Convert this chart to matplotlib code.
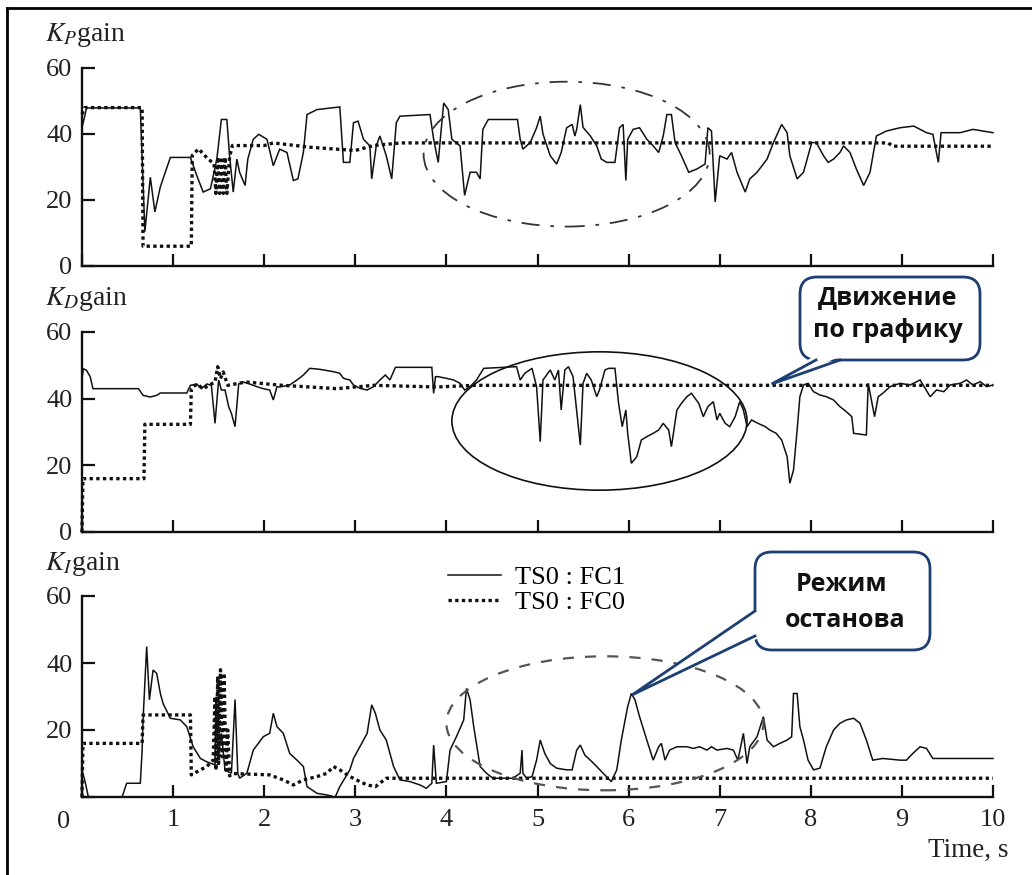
import matplotlib
matplotlib.use('Agg')
import matplotlib.pyplot as plt
from matplotlib.patches import Ellipse, FancyBboxPatch, Polygon
from matplotlib.lines import Line2D

plt.rcParams['font.family'] = ['Liberation Serif', 'DejaVu Serif']
plt.rcParams['mathtext.fontset'] = 'stix'

# ---------------- data ----------------
series_labels = ["TS0 : FC1", "TS0 : FC0"]
x_ticks = [0, 1, 2, 3, 4, 5, 6, 7, 8, 9, 10]
y_ticks = [0, 20, 40, 60]

# K_P gain, FC1 (solid)
kp1_t = [0, 0.03, 0.05, 0.64, 0.69, 0.75, 0.80, 0.86, 0.97, 1.19, 1.26, 1.33, 1.41, 1.48, 1.53, 1.59, 1.62,
         1.66, 1.70, 1.73, 1.79, 1.82, 1.88, 1.94, 2.03, 2.10, 2.17, 2.25, 2.32, 2.37, 2.43, 2.47, 2.58, 2.83,
         2.87, 2.94, 2.98, 3.03, 3.09, 3.16, 3.18, 3.23, 3.27, 3.34, 3.40, 3.45, 3.49, 3.82, 3.86, 3.91, 3.97,
         4.02, 4.06, 4.15, 4.20, 4.26, 4.33, 4.37, 4.40, 4.46, 4.78, 4.81, 4.84, 4.92, 4.99, 5.03, 5.06, 5.14,
         5.21, 5.26, 5.32, 5.38, 5.41, 5.43, 5.47, 5.50, 5.58, 5.65, 5.70, 5.76, 5.85, 5.90, 5.94, 5.97, 5.99,
         6.05, 6.12, 6.20, 6.27, 6.33, 6.38, 6.42, 6.47, 6.51, 6.58, 6.66, 6.75, 6.84, 6.87, 6.91, 6.95, 7.00,
         7.08, 7.13, 7.19, 7.28, 7.33, 7.41, 7.52, 7.59, 7.68, 7.74, 7.77, 7.85, 7.92, 8.01, 8.06, 8.14, 8.19,
         8.25, 8.32, 8.36, 8.43, 8.50, 8.58, 8.65, 8.72, 8.83, 8.98, 9.13, 9.27, 9.34, 9.40, 9.43, 9.53, 9.64,
         9.78, 9.89, 10.0]
kp1_v = [42, 45.4, 47.9, 47.9, 10.4, 26.9, 16.4, 24, 32.9, 32.9, 27.4, 22.4, 23.4, 32.4, 44.4, 44.4, 33.4,
         22.4, 32.4, 28.4, 24.4, 32.4, 38.4, 39.9, 38.4, 30.4, 35.4, 34.4, 25.9, 26.4, 34.4, 45.9, 47.4, 48.2,
         31.4, 31.4, 43.4, 43.9, 38.4, 36.4, 26.4, 36.4, 39.4, 33.4, 26.4, 43.4, 45.4, 45.9, 38.4, 31.4, 49.4,
         47.4, 38.4, 36.4, 21.4, 28.4, 28.4, 26.4, 41.4, 44.4, 44.4, 38.4, 35.4, 37.4, 41.9, 45.4, 40.0, 33.4,
         30.9, 34.4, 41.9, 42.9, 39.4, 41.4, 48.9, 42.0, 39.4, 36.4, 32.4, 31.4, 31.4, 41.9, 42.9, 25.9, 38.4,
         41.4, 41.9, 38.4, 36.4, 34.4, 39.4, 45.9, 45.9, 37.4, 33.4, 28.4, 29.4, 30.9, 41.9, 40.9, 19.4, 33.4,
         32.4, 34.4, 28.4, 22.4, 26.4, 28.4, 32.4, 37.4, 42.9, 40.4, 33.4, 26.4, 28.4, 37.4, 37.4, 33.4, 31.4,
         32.4, 34.4, 36.4, 34.4, 29.4, 24.4, 28.4, 39.4, 40.9, 41.9, 42.4, 40.4, 39.9, 31.4, 40.4, 40.4, 40.4,
         41.4, 40.9, 40.4]

# K_P gain, FC0 (dotted)
kp0_t = [0, 0.03, 0.66, 0.67, 1.20, 1.21, 1.28, 1.38, 1.45, 1.47, 1.49, 1.51, 1.53, 1.55, 1.57, 1.59, 1.62,
         1.65, 2.0, 2.1, 2.5, 3.0, 3.2, 3.5, 8.85, 8.9, 10.0]
kp0_v = [46, 48, 48, 6, 6, 33.5, 35.5, 32.5, 31, 22, 33, 22, 33, 22, 33, 22, 33,
         36.5, 36.5, 37.3, 36, 35, 36.5, 37.3, 37.3, 36.3, 36.3]

# K_D gain, FC1 (solid)
kd1_t = [0.0, 0.015, 0.05, 0.09, 0.12, 0.62, 0.67, 0.75, 0.82, 0.86, 1.15, 1.19, 1.26, 1.31, 1.37, 1.42,
         1.46, 1.50, 1.53, 1.57, 1.61, 1.64, 1.68, 1.72, 1.77, 1.84, 1.92, 1.99, 2.06, 2.10, 2.14, 2.17, 2.28,
         2.36, 2.43, 2.50, 2.61, 2.76, 2.83, 2.87, 2.94, 2.98, 3.05, 3.13, 3.20, 3.27, 3.33, 3.38, 3.44, 3.84,
         3.86, 3.88, 3.91, 4.00, 4.08, 4.15, 4.20, 4.26, 4.33, 4.41, 4.77, 4.81, 4.86, 4.94, 4.99, 5.03, 5.06,
         5.14, 5.19, 5.23, 5.26, 5.30, 5.34, 5.39, 5.47, 5.50, 5.54, 5.59, 5.65, 5.68, 5.74, 5.78, 5.85, 5.89,
         5.93, 5.97, 5.99, 6.03, 6.09, 6.14, 6.20, 6.27, 6.33, 6.38, 6.44, 6.47, 6.53, 6.58, 6.64, 6.69, 6.77,
         6.82, 6.87, 6.93, 6.97, 7.00, 7.06, 7.11, 7.17, 7.22, 7.26, 7.30, 7.35, 7.42, 7.50, 7.55, 7.62, 7.68,
         7.74, 7.77, 7.81, 7.85, 7.88, 7.92, 7.97, 8.03, 8.10, 8.17, 8.25, 8.32, 8.39, 8.45, 8.47, 8.61, 8.63,
         8.70, 8.74, 8.79, 8.87, 8.98, 9.09, 9.20, 9.31, 9.38, 9.46, 9.53, 9.64, 9.71, 9.78, 9.86, 9.93, 10.0]
kd1_v = [46, 49, 48.5, 46.6, 43, 43, 41, 40.5, 41, 41.7, 41.7, 44, 44.4, 43, 44.4, 44,
         32.6, 45.6, 42.6, 42.6, 37.6, 35.6, 31.6, 44.4, 45, 44.4, 43.6, 43, 42.6, 39.6, 43.6, 43.5, 44.1,
         45.6, 47.1, 49.1, 48.8, 48.1, 47.6, 46.1, 45.6, 44.1, 43.1, 42.6, 43.6, 45.6, 47.1, 45.6, 49.4, 49.4,
         41.6, 46.6, 46.6, 46.1, 45.6, 44.6, 42.6, 43.6, 45.6, 49.1, 49.6, 45.6, 47.6, 49.1, 43.6, 27.1, 45.6,
         48.6, 45.6, 48.6, 36.6, 48.6, 49.6, 46.6, 26.1, 44.6, 47.6, 45.6, 40.6, 42.6, 48.6, 49.1, 49.1, 38.6,
         31.6, 36.6, 29.6, 20.6, 22.6, 27.6, 28.6, 29.6, 30.6, 32.6, 30.6, 25.6, 36.6, 38.6, 40.6, 41.6, 38.6,
         34.6, 37.6, 39.1, 33.6, 35.6, 32.6, 31.6, 34.6, 39.1, 36.6, 31.6, 33.6, 32.6, 31.6, 30.6, 29.6, 27.6,
         22.6, 14.6, 18.6, 30.6, 40.6, 44.1, 44.6, 42.1, 41.1, 40.6, 39.6, 37.6, 36.1, 34.6, 29.6, 29.1, 44.6,
         34.6, 40.6, 41.6, 43.6, 44.6, 44.1, 45.6, 40.6, 42.6, 42.1, 44.1, 44.6, 45.6, 44.1, 45.1, 43.6, 44.1]

# K_D gain, FC0 (dotted)
kd0_t = [0, 0.01, 0.68, 0.69, 1.19, 1.20, 1.26, 1.33, 1.42, 1.46, 1.49, 1.52, 1.55, 1.60, 1.8, 2.2, 2.8,
         3.2, 3.9, 4.3, 10.0]
kd0_v = [0, 16, 16, 32.3, 32.3, 43, 44.4, 43, 44.4, 45, 49.6, 46, 48, 44, 45, 44, 43,
         44, 43.5, 44, 44]

# K_I gain, FC1 (solid)
ki1_t = [0, 0.03, 0.07, 0.44, 0.49, 0.64, 0.66, 0.67, 0.71, 0.74, 0.78, 0.82, 0.86, 0.89, 0.97, 1.08, 1.15,
         1.22, 1.30, 1.37, 1.46, 1.47, 1.49, 1.53, 1.57, 1.64, 1.68, 1.71, 1.73, 1.81, 1.88, 1.99, 2.06, 2.10,
         2.14, 2.21, 2.28, 2.36, 2.43, 2.47, 2.58, 2.69, 2.78, 2.83, 2.94, 2.98, 3.05, 3.13, 3.18, 3.22, 3.27,
         3.34, 3.42, 3.49, 3.60, 3.71, 3.78, 3.84, 3.86, 3.89, 4.00, 4.04, 4.11, 4.19, 4.22, 4.26, 4.30, 4.37,
         4.44, 4.51, 4.66, 4.73, 4.81, 4.83, 4.84, 4.88, 4.94, 4.99, 5.03, 5.08, 5.14, 5.21, 5.32, 5.38, 5.43,
         5.47, 5.52, 5.58, 5.65, 5.72, 5.81, 5.87, 5.92, 5.99, 6.03, 6.07, 6.12, 6.20, 6.27, 6.33, 6.36, 6.40,
         6.45, 6.53, 6.64, 6.71, 6.78, 6.86, 6.91, 6.97, 7.08, 7.15, 7.20, 7.26, 7.30, 7.33, 7.41, 7.48, 7.52,
         7.59, 7.66, 7.74, 7.79, 7.81, 7.85, 7.88, 7.92, 7.97, 8.03, 8.10, 8.17, 8.25, 8.32, 8.39, 8.47, 8.54,
         8.61, 8.68, 8.79, 8.98, 9.05, 9.12, 9.20, 9.27, 9.34, 9.53, 9.71, 10.0]
ki1_v = [8, 5, 0, 0, 4.1, 4.1, 14, 23, 44.9, 29, 37.9, 36.9, 30.9, 27.9, 23.5, 23, 21,
         15, 11.5, 10.5, 9.6, 29.9, 11, 19, 8, 7.1, 29.1, 7.1, 5.6, 7.1, 14, 18, 19, 25,
         21, 19, 13, 11, 9.1, 3.1, 1.1, 0.6, 0, 3.1, 8.1, 11.5, 15, 19, 27.5, 25, 20,
         17, 9.1, 5.1, 4.6, 3.6, 2.6, 4.1, 15.5, 4.1, 4.6, 14, 18, 23, 32.4, 29, 21, 9.1,
         7.1, 5.6, 5.6, 5.6, 7.1, 14, 7.1, 5.6, 6.1, 11, 17, 13, 10, 8.6, 8.1, 8.1, 14,
         15.5, 12.5, 11, 9.1, 7.1, 4.6, 8.1, 17, 27, 30.9, 29, 24, 17, 11, 15, 16, 11,
         14, 15, 15, 14.5, 15, 14, 15, 14, 14.5, 14, 11, 19, 10, 15, 18, 24, 17,
         15, 16, 17, 18, 30.9, 30.9, 21, 17, 11, 8.1, 8.6, 15, 20, 22, 23, 23.5, 22,
         17, 11, 11.5, 11, 11, 13, 15, 14.5, 11.5, 11.5, 11.5, 11.5]

# K_I gain, FC0 (dotted)
ki0_t = [0, 0.01, 0.66, 0.67, 1.19, 1.20, 1.30, 1.37, 1.44, 1.46, 1.47, 1.49, 1.50, 1.52, 1.54, 1.56, 1.58,
         1.60, 1.62, 1.66, 2.06, 2.21, 2.32, 2.43, 2.58, 2.69, 2.76, 2.83, 2.94, 3.05, 3.13, 3.22, 3.34, 3.49, 10.0]
ki0_v = [0, 16, 16, 24.5, 24.5, 6.6, 8.1, 9.1, 11, 30, 8, 36, 10, 38, 12, 37, 8,
         20, 6.3, 7, 6.6, 5.1, 3.6, 5.1, 6.1, 7.1, 9.1, 8.1, 6.1, 4.6, 3.6, 3.1, 5.6, 5.6, 5.6]

panel_labels = [r"$K_P$gain", r"$K_D$gain", r"$K_I$gain"]

# highlighted regions (centre x, centre y, width, height)
region_kp = (5.32, 33.9, 3.14, 43.9)
region_kd = (5.68, 33.3, 3.24, 41.5)
region_ki = (5.74, 22.0, 3.48, 40.0)

callout_texts = [("Движение", "по графику"), ("Режим", "останова")]
callout_tips = [(7.57, 44.4), (6.04, 30.5)]

# ---------------- figure ----------------
W, H = 1032, 875
fig = plt.figure(figsize=(W / 100, H / 100), dpi=100)
fig.patch.set_facecolor('white')

TICK_FS = 19


def ax_rect(top_px, bottom_px):
    return [82 / W, 1 - bottom_px / H, (993 - 82) / W, (bottom_px - top_px) / H]


ax1 = fig.add_axes(ax_rect(68, 266))
ax2 = fig.add_axes(ax_rect(332, 532))
ax3 = fig.add_axes(ax_rect(596, 797))
axes = [ax1, ax2, ax3]

solid_kw = dict(color='#111111', lw=1.1, solid_joinstyle='miter', clip_on=False)
dot_kw = dict(color='#111111', lw=2.4, linestyle=(0, (1.0, 1.0)), dash_capstyle='butt', clip_on=False)

data = [(kp1_t, kp1_v, kp0_t, kp0_v), (kd1_t, kd1_v, kd0_t, kd0_v), (ki1_t, ki1_v, ki0_t, ki0_v)]
for ax, (t1, v1, t0, v0) in zip(axes, data):
    ax.plot(t1, v1, label=series_labels[0], zorder=3, **solid_kw)
    ax.plot(t0, v0, label=series_labels[1], zorder=2, **dot_kw)
    ax.set_xlim(0, 10)
    ax.set_ylim(0, 60)
    ax.set_xticks(x_ticks)
    ax.set_yticks(y_ticks)
    for s in ['top', 'right']:
        ax.spines[s].set_visible(False)
    for s in ['left', 'bottom']:
        ax.spines[s].set_linewidth(1.7)
        ax.spines[s].set_color('#111111')
    ax.tick_params(axis='both', direction='in', length=9, width=1.6, color='#111111',
                   labelsize=TICK_FS, labelcolor='#222222')
    ax.tick_params(axis='y', pad=7)
    ax.tick_params(axis='x', pad=9)
    ax.set_facecolor('none')

ax1.tick_params(axis='x', labelbottom=False)
ax2.tick_params(axis='x', labelbottom=False)

# bottom panel: one shared "0" at the corner, shifted left as in the original
ax3.set_yticklabels([''] + [str(v) for v in y_ticks[1:]])
ax3.set_xticklabels([''] + [str(v) for v in x_ticks[1:]])
fig.text(64 / W, 1 - 828 / H, str(x_ticks[0]), fontsize=TICK_FS, ha='center', va='baseline', color='#222222')

# ellipses marking regions
cx, cy, w, h = region_kp
ax1.add_patch(Ellipse((cx, cy), w, h, fill=False, ec='#333333', lw=1.3,
                      linestyle=(0, (10, 6, 2, 6)), zorder=4, clip_on=False))
cx, cy, w, h = region_kd
ax2.add_patch(Ellipse((cx, cy), w, h, fill=False, ec='#111111', lw=1.2, zorder=4, clip_on=False))
cx, cy, w, h = region_ki
ax3.add_patch(Ellipse((cx, cy), w, h, fill=False, ec='#555555', lw=1.6,
                      linestyle=(0, (5, 5)), zorder=4, clip_on=False))

# panel titles
for lab, ypx in zip(panel_labels, [41, 305, 570]):
    fig.text(45 / W, 1 - ypx / H, lab, fontsize=20, ha='left', va='baseline', color='#222222')

fig.text(1009 / W, 1 - 857 / H, "Time, s", fontsize=19.5, ha='right', va='baseline', color='#222222')

# legend
ax3.legend(loc='upper left', bbox_to_anchor=(448 / W, 1 - 566 / H), bbox_transform=fig.transFigure,
           frameon=False, fontsize=19, handlelength=2.0, handletextpad=0.55, labelspacing=0.05,
           borderpad=0, borderaxespad=0)

# outer frame
fig.add_artist(Line2D([7 / W, 7 / W], [0, 1 - 8 / H], transform=fig.transFigure, color='black', lw=2.0))
fig.add_artist(Line2D([7 / W, 1], [1 - 8 / H, 1 - 8 / H], transform=fig.transFigure, color='black', lw=2.0))

# callouts
navy = '#1d3f74'
inch = fig.dpi_scale_trans


def pin(px, py):
    return (px / 100.0, (H - py) / 100.0)


def callout(box, lines, line_px, tip_ax, tip_xy, base_a, base_b, inner_a, inner_b):
    x0, y0, x1, y1 = box
    bx, by = pin(x0, y1)
    fig.add_artist(FancyBboxPatch((bx, by), (x1 - x0) / 100, (y1 - y0) / 100,
                                  boxstyle='round,pad=0,rounding_size=0.17', transform=inch,
                                  fc='white', ec=navy, lw=2.0, zorder=5))
    tip_disp = tip_ax.transData.transform(tip_xy)
    tip = (tip_disp[0] / fig.dpi, tip_disp[1] / fig.dpi)
    fig.add_artist(Polygon([pin(*inner_a), tip, pin(*inner_b)], closed=True, transform=inch,
                           fc='white', ec='none', zorder=6))
    fig.add_artist(Line2D([pin(*base_a)[0], tip[0], pin(*base_b)[0]],
                          [pin(*base_a)[1], tip[1], pin(*base_b)[1]],
                          transform=inch, color=navy, lw=2.0, zorder=7, solid_joinstyle='miter'))
    for s, (tx, ty) in zip(lines, line_px):
        fig.text(tx / W, 1 - ty / H, s, ha='center', va='baseline', fontsize=18, fontweight='bold',
                 family=['Open Sans', 'DejaVu Sans'], color='#111111', zorder=8)


callout((800, 277, 980, 360), callout_texts[0], [(888, 304), (888, 337)], ax2, callout_tips[0],
        (816, 360), (840, 360), (814, 356), (842, 356))
callout((755, 552, 930, 650), callout_texts[1], [(842, 591), (845, 627)], ax3, callout_tips[1],
        (755, 611), (755, 636), (759, 609), (759, 638))

fig.savefig('out.png', dpi=100)
